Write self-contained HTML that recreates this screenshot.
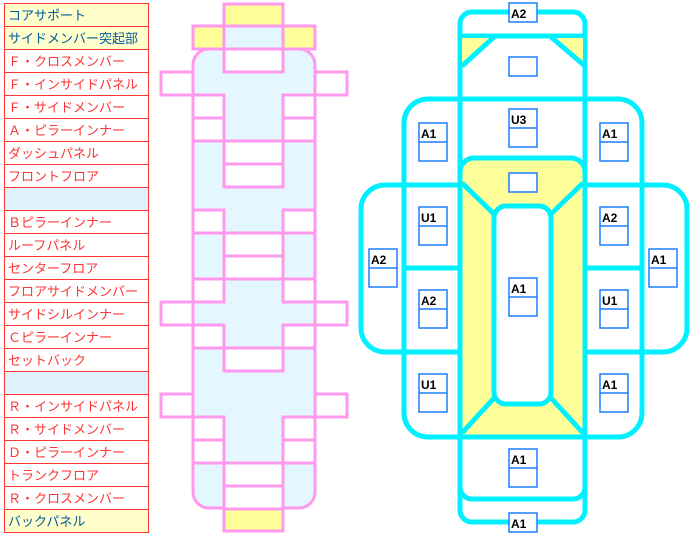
<!DOCTYPE html>
<html><head><meta charset="utf-8"><style>
body{margin:0;background:#fff;width:692px;height:535px;overflow:hidden}
svg{display:block}
.t{font-family:"Liberation Sans","Noto Sans CJK JP",sans-serif;font-size:13px}
.l{font-family:"Liberation Sans",sans-serif;font-size:12px;font-weight:bold;fill:#000}
</style></head><body>
<svg width="692" height="535" xmlns="http://www.w3.org/2000/svg">
<g>
<rect x="4" y="3" width="144" height="46" fill="#ffffcc"/>
<rect x="4" y="187" width="144" height="23" fill="#dff2fd"/>
<rect x="4" y="371" width="144" height="23" fill="#dff2fd"/>
<rect x="4" y="509" width="144" height="23" fill="#ffffcc"/>
<g stroke="#ff3333" stroke-width="1" fill="none">
<rect x="4.5" y="3.5" width="144" height="529"/>
<path d="M4 26.5H148M4 49.5H148M4 72.5H148M4 95.5H148M4 118.5H148M4 141.5H148M4 164.5H148M4 187.5H148M4 210.5H148M4 233.5H148M4 256.5H148M4 279.5H148M4 302.5H148M4 325.5H148M4 348.5H148M4 371.5H148M4 394.5H148M4 417.5H148M4 440.5H148M4 463.5H148M4 486.5H148M4 509.5H148"/>
</g>
<g class="t" fill="#ff3333">
<text x="8" y="20" fill="#005a9c">コアサポート</text>
<text x="8" y="43" fill="#005a9c">サイドメンバー突起部</text>
<text x="8" y="66">Ｆ・クロスメンバー</text>
<text x="8" y="89">Ｆ・インサイドパネル</text>
<text x="8" y="112">Ｆ・サイドメンバー</text>
<text x="8" y="135">Ａ・ピラーインナー</text>
<text x="8" y="158">ダッシュパネル</text>
<text x="8" y="181">フロントフロア</text>
<text x="8" y="227">Ｂピラーインナー</text>
<text x="8" y="250">ルーフパネル</text>
<text x="8" y="273">センターフロア</text>
<text x="8" y="296">フロアサイドメンバー</text>
<text x="8" y="319">サイドシルインナー</text>
<text x="8" y="342">Ｃピラーインナー</text>
<text x="8" y="365">セットバック</text>
<text x="8" y="411">Ｒ・インサイドパネル</text>
<text x="8" y="434">Ｒ・サイドメンバー</text>
<text x="8" y="457">Ｄ・ピラーインナー</text>
<text x="8" y="480">トランクフロア</text>
<text x="8" y="503">Ｒ・クロスメンバー</text>
<text x="8" y="526" fill="#005a9c">バックパネル</text>
</g>
</g>
<g stroke="#ff99ee" stroke-width="3">
<rect x="193" y="49" width="122" height="459" rx="16" fill="#e4f6fe"/>
<rect x="224" y="4" width="59" height="22" fill="#ffff99"/>
<rect x="193" y="26" width="31" height="23" fill="#ffff99"/>
<rect x="283" y="26" width="32" height="23" fill="#ffff99"/>
<rect x="224" y="26" width="59" height="23" fill="#e4f6fe"/>
<g fill="#fff">
<rect x="224" y="49" width="59" height="23"/>
<rect x="161" y="72" width="32" height="23"/><rect x="315" y="72" width="32" height="23"/>
<rect x="193" y="95" width="31" height="23"/><rect x="283" y="95" width="32" height="23"/>
<rect x="193" y="118" width="31" height="23"/><rect x="283" y="118" width="32" height="23"/>
<rect x="224" y="141" width="59" height="23"/><rect x="224" y="164" width="59" height="23"/>
<rect x="193" y="210" width="31" height="23"/><rect x="283" y="210" width="32" height="23"/>
<rect x="224" y="233" width="59" height="23"/><rect x="224" y="256" width="59" height="23"/>
<rect x="193" y="279" width="31" height="23"/><rect x="283" y="279" width="32" height="23"/>
<rect x="161" y="302" width="32" height="23"/><rect x="315" y="302" width="32" height="23"/>
<rect x="193" y="325" width="31" height="23"/><rect x="283" y="325" width="32" height="23"/>
<rect x="224" y="348" width="59" height="23"/>
<rect x="161" y="394" width="32" height="23"/><rect x="315" y="394" width="32" height="23"/>
<rect x="193" y="417" width="31" height="23"/><rect x="283" y="417" width="32" height="23"/>
<rect x="193" y="440" width="31" height="23"/><rect x="283" y="440" width="32" height="23"/>
<rect x="224" y="463" width="59" height="23"/><rect x="224" y="486" width="59" height="23"/>
</g>
<path d="M193 233H315" fill="none"/>
<rect x="224" y="509" width="59" height="22" fill="#ffff99"/>
</g>
<g stroke="#00f0ff" stroke-width="5" fill="none" stroke-linejoin="round">
<path d="M460 24a12 12 0 0 1 12-12h101a12 12 0 0 1 12 12V510a12 12 0 0 1-12 12H472a12 12 0 0 1-12-12Z" fill="#fff"/>
<path d="M460 185H385a24 24 0 0 0-24 24V328a24 24 0 0 0 24 24H460" fill="#fff"/>
<path d="M585 185H663a24 24 0 0 1 24 24V328a24 24 0 0 1-24 24H585" fill="#fff"/>
<rect x="404" y="99" width="238" height="338" rx="24" fill="#fff"/>
<path d="M404 185H460M404 268H460M585 185H642M585 268H642M404 352H460M585 352H642"/>
<path d="M460 99V437M585 99V437"/>
<path d="M460 36H585"/>
<path d="M462 38H494L462 66Z" fill="#ffff99" stroke-width="0"/>
<path d="M583 38H551L583 66Z" fill="#ffff99" stroke-width="0"/>
<path d="M494 37L462 66M551 37L585 66"/>
<path d="M460 437V172a14 14 0 0 1 14-14h97a14 14 0 0 1 14 14V437Z" fill="#ffff99"/>
<rect x="494" y="206" width="57" height="198" rx="12" fill="#fff"/>
<path d="M462 183L494 214M583 183L551 214M494 398L462 433M551 398L583 433"/>
<path d="M460 437H585"/>
<path d="M460 487a12 12 0 0 0 12 12h101a12 12 0 0 0 12-12"/>
</g>
<g stroke="#1a7fff" stroke-width="1.5" fill="#fff">
<rect x="509" y="3" width="28" height="19"/>
<rect x="509" y="57" width="28" height="19"/>
<rect x="509" y="173" width="28" height="19"/>
<rect x="509" y="513" width="28" height="19"/>
<rect x="419" y="123" width="28" height="38"/><path d="M419 142H447"/>
<rect x="600" y="123" width="28" height="38"/><path d="M600 142H628"/>
<rect x="509" y="109" width="28" height="38"/><path d="M509 128H537"/>
<rect x="419" y="207" width="28" height="38"/><path d="M419 226H447"/>
<rect x="600" y="207" width="28" height="38"/><path d="M600 226H628"/>
<rect x="369" y="249" width="28" height="38"/><path d="M369 268H397"/>
<rect x="649" y="249" width="28" height="38"/><path d="M649 268H677"/>
<rect x="509" y="278" width="28" height="38"/><path d="M509 297H537"/>
<rect x="419" y="290" width="28" height="38"/><path d="M419 309H447"/>
<rect x="600" y="290" width="28" height="38"/><path d="M600 309H628"/>
<rect x="419" y="374" width="28" height="38"/><path d="M419 393H447"/>
<rect x="600" y="374" width="28" height="38"/><path d="M600 393H628"/>
<rect x="509" y="449" width="28" height="38"/><path d="M509 468H537"/>
</g>
<g class="l">
<text x="511" y="18">A2</text>
<text x="511" y="528">A1</text>
<text x="421" y="138">A1</text><text x="602" y="138">A1</text>
<text x="511" y="124">U3</text>
<text x="421" y="222">U1</text><text x="602" y="222">A2</text>
<text x="371" y="264">A2</text><text x="651" y="264">A1</text>
<text x="511" y="293">A1</text>
<text x="421" y="305">A2</text><text x="602" y="305">U1</text>
<text x="421" y="389">U1</text><text x="602" y="389">A1</text>
<text x="511" y="464">A1</text>
</g>
</svg>
</body></html>
